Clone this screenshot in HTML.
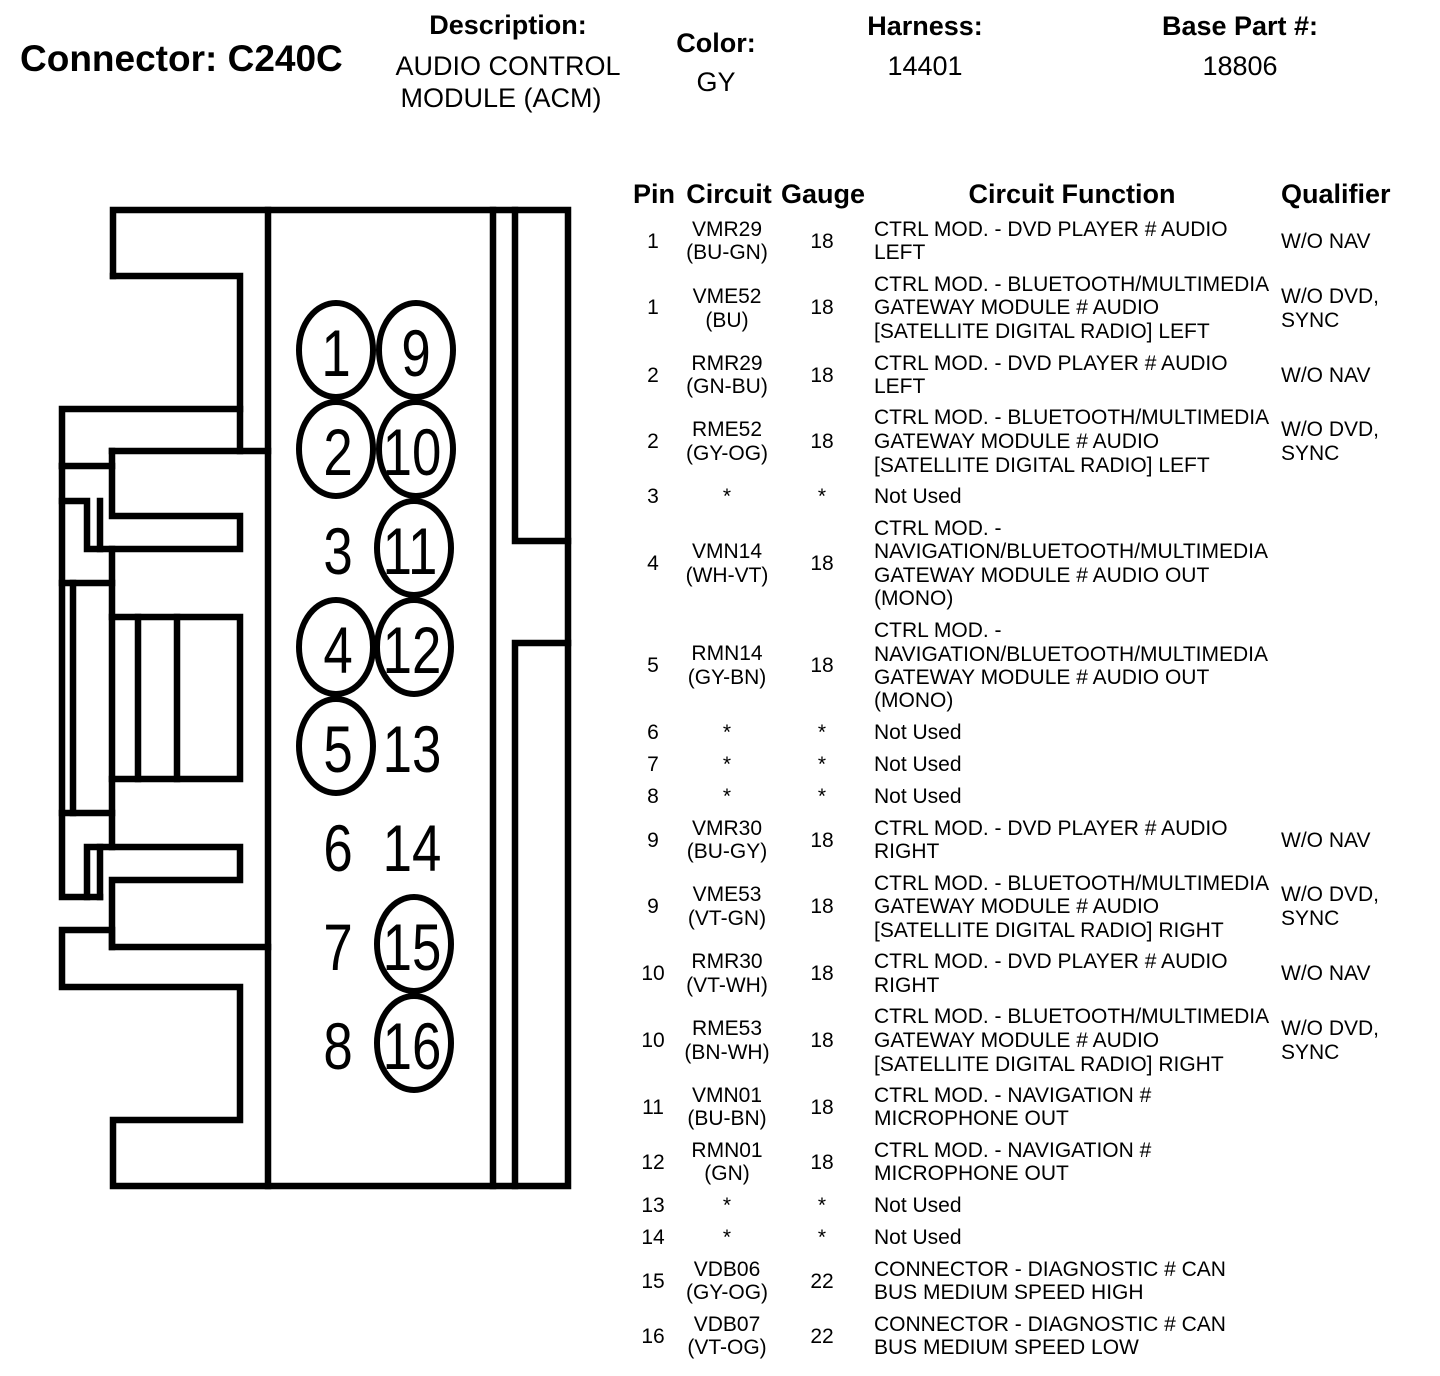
<!DOCTYPE html>
<html><head><meta charset="utf-8"><style>
html,body{margin:0;padding:0;background:#fff;}
svg{display:block;}
text{font-family:"Liberation Sans",sans-serif;fill:#000;}
.h{font-weight:bold;font-size:27px;}
.n{font-size:27px;}
.t{font-size:21px;}
.m{text-anchor:middle;}
.d{font-size:66px;}
</style></head><body>
<svg width="1440" height="1376" viewBox="0 0 1440 1376" xmlns="http://www.w3.org/2000/svg">
<text x="20" y="71" style="font-weight:bold;font-size:37px">Connector: C240C</text>
<text class="h m" x="508" y="34">Description:</text>
<text class="n m" x="508" y="75">AUDIO CONTROL</text>
<text class="n m" x="501" y="107">MODULE (ACM)</text>
<text class="h m" x="716" y="52">Color:</text>
<text class="n m" x="716" y="91">GY</text>
<text class="h m" x="925" y="35">Harness:</text>
<text class="n m" x="925" y="75">14401</text>
<text class="h m" x="1240" y="35">Base Part #:</text>
<text class="n m" x="1240" y="75">18806</text>

<g fill="none" stroke="#000" stroke-width="6.5" stroke-linecap="square" stroke-linejoin="miter">
<path d="M113 276 V210 H568 V1186 H113 V1120 H240 V987 H62 V930 H112 V947 H268"/>
<path d="M113 276 H240 V451"/>
<path d="M268 210 V1186"/>
<path d="M493 210 V1186"/>
<path d="M515 210 V541 H568"/>
<path d="M515 1186 V643 H568"/>
<path d="M62 466 V409 H240"/>
<path d="M62 466 H112"/>
<path d="M112 451 H268"/>
<path d="M112 451 V516 H240 V549 H87 V501 H62"/>
<path d="M100 501 V549"/>
<path d="M62 466 V897 H100"/>
<path d="M73 583 V813"/>
<path d="M62 583 H112"/>
<path d="M112 549 V847"/>
<path d="M112 617 H240 V779 H112"/>
<path d="M138 617 V779"/>
<path d="M177 617 V779"/>
<path d="M62 813 H112"/>
<path d="M87 897 V847 H240 V880 H112 V947"/>
<path d="M100 847 V897"/>
</g>
<g fill="none" stroke="#000" stroke-width="6">
<ellipse cx="336" cy="350" rx="37" ry="47"/>
<ellipse cx="416" cy="350" rx="37" ry="47"/>
<ellipse cx="336" cy="449" rx="37" ry="47"/>
<ellipse cx="416" cy="449" rx="37" ry="47"/>
<ellipse cx="414" cy="548" rx="37" ry="47"/>
<ellipse cx="336" cy="647" rx="37" ry="47"/>
<ellipse cx="414" cy="647" rx="37" ry="47"/>
<ellipse cx="336" cy="746" rx="37" ry="47"/>
<ellipse cx="414" cy="944" rx="37" ry="47"/>
<ellipse cx="414" cy="1043" rx="37" ry="47"/>
</g>
<g>
<text class="m d" transform="translate(336,376) scale(0.8,1)">1</text>
<text class="m d" transform="translate(416,376) scale(0.8,1)">9</text>
<text class="m d" transform="translate(338,475) scale(0.8,1)">2</text>
<text class="m d" transform="translate(412,475) scale(0.8,1)">10</text>
<text class="m d" transform="translate(338,574) scale(0.8,1)">3</text>
<text class="m d" transform="translate(410,574) scale(0.8,1)">11</text>
<text class="m d" transform="translate(338,673) scale(0.8,1)">4</text>
<text class="m d" transform="translate(412,673) scale(0.8,1)">12</text>
<text class="m d" transform="translate(338,772) scale(0.8,1)">5</text>
<text class="m d" transform="translate(412,772) scale(0.8,1)">13</text>
<text class="m d" transform="translate(338,871) scale(0.8,1)">6</text>
<text class="m d" transform="translate(412,871) scale(0.8,1)">14</text>
<text class="m d" transform="translate(338,970) scale(0.8,1)">7</text>
<text class="m d" transform="translate(412,970) scale(0.8,1)">15</text>
<text class="m d" transform="translate(338,1069) scale(0.8,1)">8</text>
<text class="m d" transform="translate(412,1069) scale(0.8,1)">16</text>
</g>

<text class="h m" x="654" y="203">Pin</text>
<text class="h m" x="729" y="203">Circuit</text>
<text class="h m" x="823" y="203">Gauge</text>
<text class="h m" x="1072" y="203">Circuit Function</text>
<text class="h" x="1281" y="203">Qualifier</text>

<g class="t">
<text class="m" x="653" y="248">1</text><text class="m" x="727" y="236">VMR29</text><text class="m" x="727" y="259">(BU-GN)</text><text class="m" x="822" y="248">18</text>
<text x="874" y="236">CTRL MOD. - DVD PLAYER # AUDIO</text><text x="874" y="259">LEFT</text><text x="1281" y="248">W/O NAV</text>
<text class="m" x="653" y="314">1</text><text class="m" x="727" y="303">VME52</text><text class="m" x="727" y="327">(BU)</text><text class="m" x="822" y="314">18</text>
<text x="874" y="291">CTRL MOD. - BLUETOOTH/MULTIMEDIA</text><text x="874" y="314">GATEWAY MODULE # AUDIO</text><text x="874" y="338">[SATELLITE DIGITAL RADIO] LEFT</text>
<text x="1281" y="303">W/O DVD,</text><text x="1281" y="327">SYNC</text>
<text class="m" x="653" y="382">2</text><text class="m" x="727" y="370">RMR29</text><text class="m" x="727" y="393">(GN-BU)</text><text class="m" x="822" y="382">18</text>
<text x="874" y="370">CTRL MOD. - DVD PLAYER # AUDIO</text><text x="874" y="393">LEFT</text><text x="1281" y="382">W/O NAV</text>
<text class="m" x="653" y="448">2</text><text class="m" x="727" y="436">RME52</text><text class="m" x="727" y="460">(GY-OG)</text><text class="m" x="822" y="448">18</text>
<text x="874" y="424">CTRL MOD. - BLUETOOTH/MULTIMEDIA</text><text x="874" y="448">GATEWAY MODULE # AUDIO</text><text x="874" y="472">[SATELLITE DIGITAL RADIO] LEFT</text>
<text x="1281" y="436">W/O DVD,</text><text x="1281" y="460">SYNC</text>
<text class="m" x="653" y="503">3</text><text class="m" x="727" y="503">*</text><text class="m" x="822" y="503">*</text><text x="874" y="503">Not Used</text>
<text class="m" x="653" y="570">4</text><text class="m" x="727" y="558">VMN14</text><text class="m" x="727" y="582">(WH-VT)</text><text class="m" x="822" y="570">18</text>
<text x="874" y="535">CTRL MOD. -</text><text x="874" y="558">NAVIGATION/BLUETOOTH/MULTIMEDIA</text><text x="874" y="582">GATEWAY MODULE # AUDIO OUT</text><text x="874" y="605">(MONO)</text>
<text class="m" x="653" y="672">5</text><text class="m" x="727" y="660">RMN14</text><text class="m" x="727" y="684">(GY-BN)</text><text class="m" x="822" y="672">18</text>
<text x="874" y="637">CTRL MOD. -</text><text x="874" y="661">NAVIGATION/BLUETOOTH/MULTIMEDIA</text><text x="874" y="684">GATEWAY MODULE # AUDIO OUT</text><text x="874" y="707">(MONO)</text>
<text class="m" x="653" y="739">6</text><text class="m" x="727" y="739">*</text><text class="m" x="822" y="739">*</text><text x="874" y="739">Not Used</text>
<text class="m" x="653" y="771">7</text><text class="m" x="727" y="771">*</text><text class="m" x="822" y="771">*</text><text x="874" y="771">Not Used</text>
<text class="m" x="653" y="803">8</text><text class="m" x="727" y="803">*</text><text class="m" x="822" y="803">*</text><text x="874" y="803">Not Used</text>
<text class="m" x="653" y="847">9</text><text class="m" x="727" y="835">VMR30</text><text class="m" x="727" y="858">(BU-GY)</text><text class="m" x="822" y="847">18</text>
<text x="874" y="835">CTRL MOD. - DVD PLAYER # AUDIO</text><text x="874" y="858">RIGHT</text><text x="1281" y="847">W/O NAV</text>
<text class="m" x="653" y="913">9</text><text class="m" x="727" y="901">VME53</text><text class="m" x="727" y="925">(VT-GN)</text><text class="m" x="822" y="913">18</text>
<text x="874" y="890">CTRL MOD. - BLUETOOTH/MULTIMEDIA</text><text x="874" y="913">GATEWAY MODULE # AUDIO</text><text x="874" y="937">[SATELLITE DIGITAL RADIO] RIGHT</text>
<text x="1281" y="901">W/O DVD,</text><text x="1281" y="925">SYNC</text>
<text class="m" x="653" y="980">10</text><text class="m" x="727" y="968">RMR30</text><text class="m" x="727" y="992">(VT-WH)</text><text class="m" x="822" y="980">18</text>
<text x="874" y="968">CTRL MOD. - DVD PLAYER # AUDIO</text><text x="874" y="992">RIGHT</text><text x="1281" y="980">W/O NAV</text>
<text class="m" x="653" y="1047">10</text><text class="m" x="727" y="1035">RME53</text><text class="m" x="727" y="1059">(BN-WH)</text><text class="m" x="822" y="1047">18</text>
<text x="874" y="1023">CTRL MOD. - BLUETOOTH/MULTIMEDIA</text><text x="874" y="1047">GATEWAY MODULE # AUDIO</text><text x="874" y="1071">[SATELLITE DIGITAL RADIO] RIGHT</text>
<text x="1281" y="1035">W/O DVD,</text><text x="1281" y="1059">SYNC</text>
<text class="m" x="653" y="1114">11</text><text class="m" x="727" y="1102">VMN01</text><text class="m" x="727" y="1125">(BU-BN)</text><text class="m" x="822" y="1114">18</text>
<text x="874" y="1102">CTRL MOD. - NAVIGATION #</text><text x="874" y="1125">MICROPHONE OUT</text>
<text class="m" x="653" y="1169">12</text><text class="m" x="727" y="1157">RMN01</text><text class="m" x="727" y="1180">(GN)</text><text class="m" x="822" y="1169">18</text>
<text x="874" y="1157">CTRL MOD. - NAVIGATION #</text><text x="874" y="1180">MICROPHONE OUT</text>
<text class="m" x="653" y="1212">13</text><text class="m" x="727" y="1212">*</text><text class="m" x="822" y="1212">*</text><text x="874" y="1212">Not Used</text>
<text class="m" x="653" y="1244">14</text><text class="m" x="727" y="1244">*</text><text class="m" x="822" y="1244">*</text><text x="874" y="1244">Not Used</text>
<text class="m" x="653" y="1288">15</text><text class="m" x="727" y="1276">VDB06</text><text class="m" x="727" y="1299">(GY-OG)</text><text class="m" x="822" y="1288">22</text>
<text x="874" y="1276">CONNECTOR - DIAGNOSTIC # CAN</text><text x="874" y="1299">BUS MEDIUM SPEED HIGH</text>
<text class="m" x="653" y="1343">16</text><text class="m" x="727" y="1331">VDB07</text><text class="m" x="727" y="1354">(VT-OG)</text><text class="m" x="822" y="1343">22</text>
<text x="874" y="1331">CONNECTOR - DIAGNOSTIC # CAN</text><text x="874" y="1354">BUS MEDIUM SPEED LOW</text>
</g>
</svg>
</body></html>
